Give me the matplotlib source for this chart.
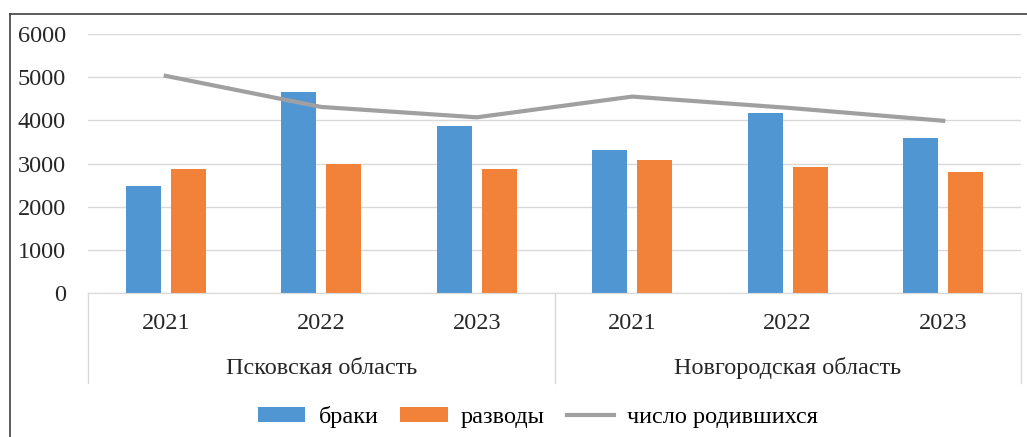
import numpy as np
import matplotlib
matplotlib.use("Agg")
import matplotlib.pyplot as plt
from matplotlib.lines import Line2D

plt.rcParams['font.family'] = ['Liberation Serif', 'DejaVu Serif']

# data
regions = ['Псковская область', 'Новгородская область']
years = ['2021', '2022', '2023']
marriages = [2490, 4660, 3880, 3310, 4180, 3580]   # браки
divorces = [2870, 2980, 2870, 3090, 2930, 2800]    # разводы
births = [5030, 4310, 4070, 4550, 4290, 3990]      # число родившихся

blue = '#5096d2'
orange = '#f2823a'
gray = '#a0a0a0'
fs = 17.5

fig = plt.figure(figsize=(10.27, 4.37), dpi=100)
ax = fig.add_axes([88/1027, 1 - 293/437, (1021 - 88)/1027, (293 - 34)/437])

x = np.arange(len(marriages))
w = 0.225
off = 0.144
b1 = ax.bar(x - off, marriages, w, color=blue, label='браки', zorder=2)
b2 = ax.bar(x + off, divorces, w, color=orange, label='разводы', zorder=2)
l1, = ax.plot(x, births, color=gray, lw=3, label='число родившихся', zorder=3)

ax.set_xlim(-0.5, len(x) - 0.5)
ax.set_ylim(0, 6000)
ax.set_yticks(range(0, 6001, 1000))
ax.yaxis.grid(True, color='#d9d9d9', lw=1)
ax.set_axisbelow(True)
for s in ['top', 'right', 'left']:
    ax.spines[s].set_visible(False)
ax.spines['bottom'].set_color('#d9d9d9')
ax.tick_params(axis='y', length=0, pad=16, labelsize=fs, colors='#262626')
ax.set_xticks([])

# two-level category axis
trans = ax.get_xaxis_transform()
labels = years * len(regions)
for i, lab in enumerate(labels):
    ax.text(i, -0.116, lab, transform=trans, ha='center', va='center',
            fontsize=fs, color='#262626')
for j, reg in enumerate(regions):
    ax.text(j * 3 + 1, -0.29, reg, transform=trans, ha='center', va='center',
            fontsize=fs, color='#262626')
for xs in [-0.5, 2.5, 5.5]:
    ax.add_line(Line2D([xs, xs], [0, -0.347], transform=trans, color='#d9d9d9',
                       lw=1, clip_on=False))

fig.legend(handles=[b1, b2, l1], loc='center', bbox_to_anchor=(538/1027, 1 - 417/437),
           ncol=3, frameon=False, fontsize=fs, handlelength=1.95, handleheight=0.55,
           columnspacing=0.9, handletextpad=0.55)

# outer frame (left and top edges visible)
fig.add_artist(Line2D([9.5/1027, 9.5/1027], [0, 1 - 13.5/437], transform=fig.transFigure,
                      color='#404040', lw=1.2))
fig.add_artist(Line2D([9.5/1027, 1], [1 - 13.5/437, 1 - 13.5/437], transform=fig.transFigure,
                      color='#404040', lw=1.2))

fig.savefig('out.png', dpi=100)
